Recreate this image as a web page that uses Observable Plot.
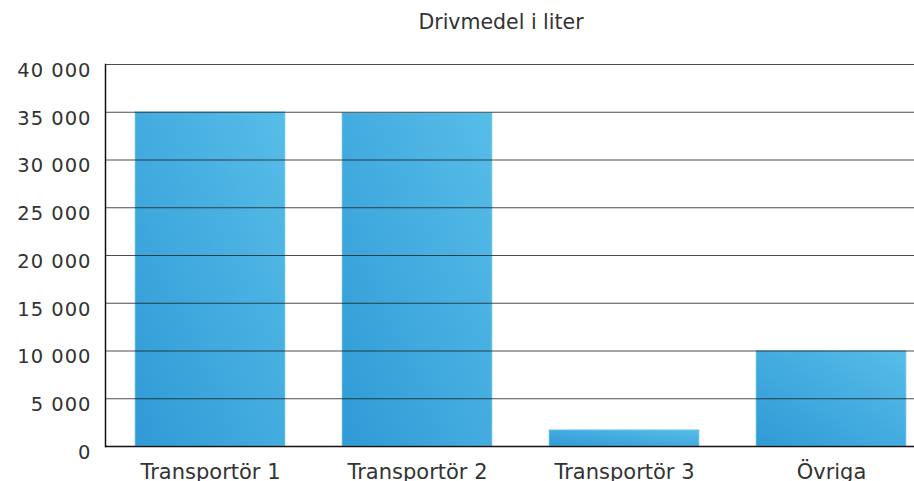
<!DOCTYPE html>
<html>
<head>
<meta charset="utf-8">
<script src="https://cdn.jsdelivr.net/npm/d3@7"></script>
<script src="https://cdn.jsdelivr.net/npm/@observablehq/plot@0.6"></script>
<style>
  html, body { margin: 0; padding: 0; background: #fff; }
  #chart svg { display: block; }
  #chart svg g[aria-label="y-axis tick label"] text { letter-spacing: 1px; }
</style>
</head>
<body>
<div id="chart"></div>
<script>
const title = "Drivmedel i liter";
const categories = ["Transportör 1", "Transportör 2", "Transportör 3", "Övriga"];
const values = [35000, 34900, 1700, 10000];
const yTicks = [0, 5000, 10000, 15000, 20000, 25000, 30000, 35000, 40000];

const data = categories.map((c, i) => ({category: c, value: values[i]}));
const fmt = d => d3.format(",")(d).replace(/,/g, " ");

const plot = Plot.plot({
  width: 914,
  height: 481,
  marginLeft: 105,
  marginRight: 0,
  marginTop: 64,
  marginBottom: 35,
  style: {fontFamily: "'DejaVu Sans', sans-serif", color: "#333", background: "#fff"},
  x: {domain: categories, range: [105, 935], paddingInner: 0.277, paddingOuter: 0.14, label: null},
  y: {domain: [0, 40000], ticks: yTicks, label: null, tickFormat: fmt},
  marks: [
    Plot.barY(data, {x: "category", y: "value", fill: "url(#barGrad)", stroke: "#8fd2f0", strokeWidth: 1, strokeOpacity: 0.7}),
    Plot.ruleY(yTicks.filter(d => d > 0), {stroke: "#222", strokeWidth: 1.2, strokeOpacity: 0.8}),
    Plot.ruleY([0], {stroke: "#111", strokeWidth: 1.6}),
    Plot.frame({anchor: "left", stroke: "#111", strokeWidth: 1.5}),
    Plot.axisY({ticks: yTicks, tickFormat: fmt, tickSize: 0, tickPadding: 14, dy: 6, fontSize: 19.5, label: null}),
    Plot.axisX({tickSize: 0, tickPadding: 18, fontSize: 21, label: null}),
    Plot.text([title], {frameAnchor: "top", lineAnchor: "middle", dy: -42, dx: -9, fontSize: 20.5, fill: "#333"})
  ]
});

const ns = "http://www.w3.org/2000/svg";
const defs = document.createElementNS(ns, "defs");
defs.innerHTML = `<linearGradient id="barGrad" x1="0" y1="1" x2="1" y2="0">
  <stop offset="0" stop-color="#2f9ad6"/>
  <stop offset="1" stop-color="#57bde8"/>
</linearGradient>`;
plot.insertBefore(defs, plot.firstChild);
document.getElementById("chart").appendChild(plot);
</script>
</body>
</html>
